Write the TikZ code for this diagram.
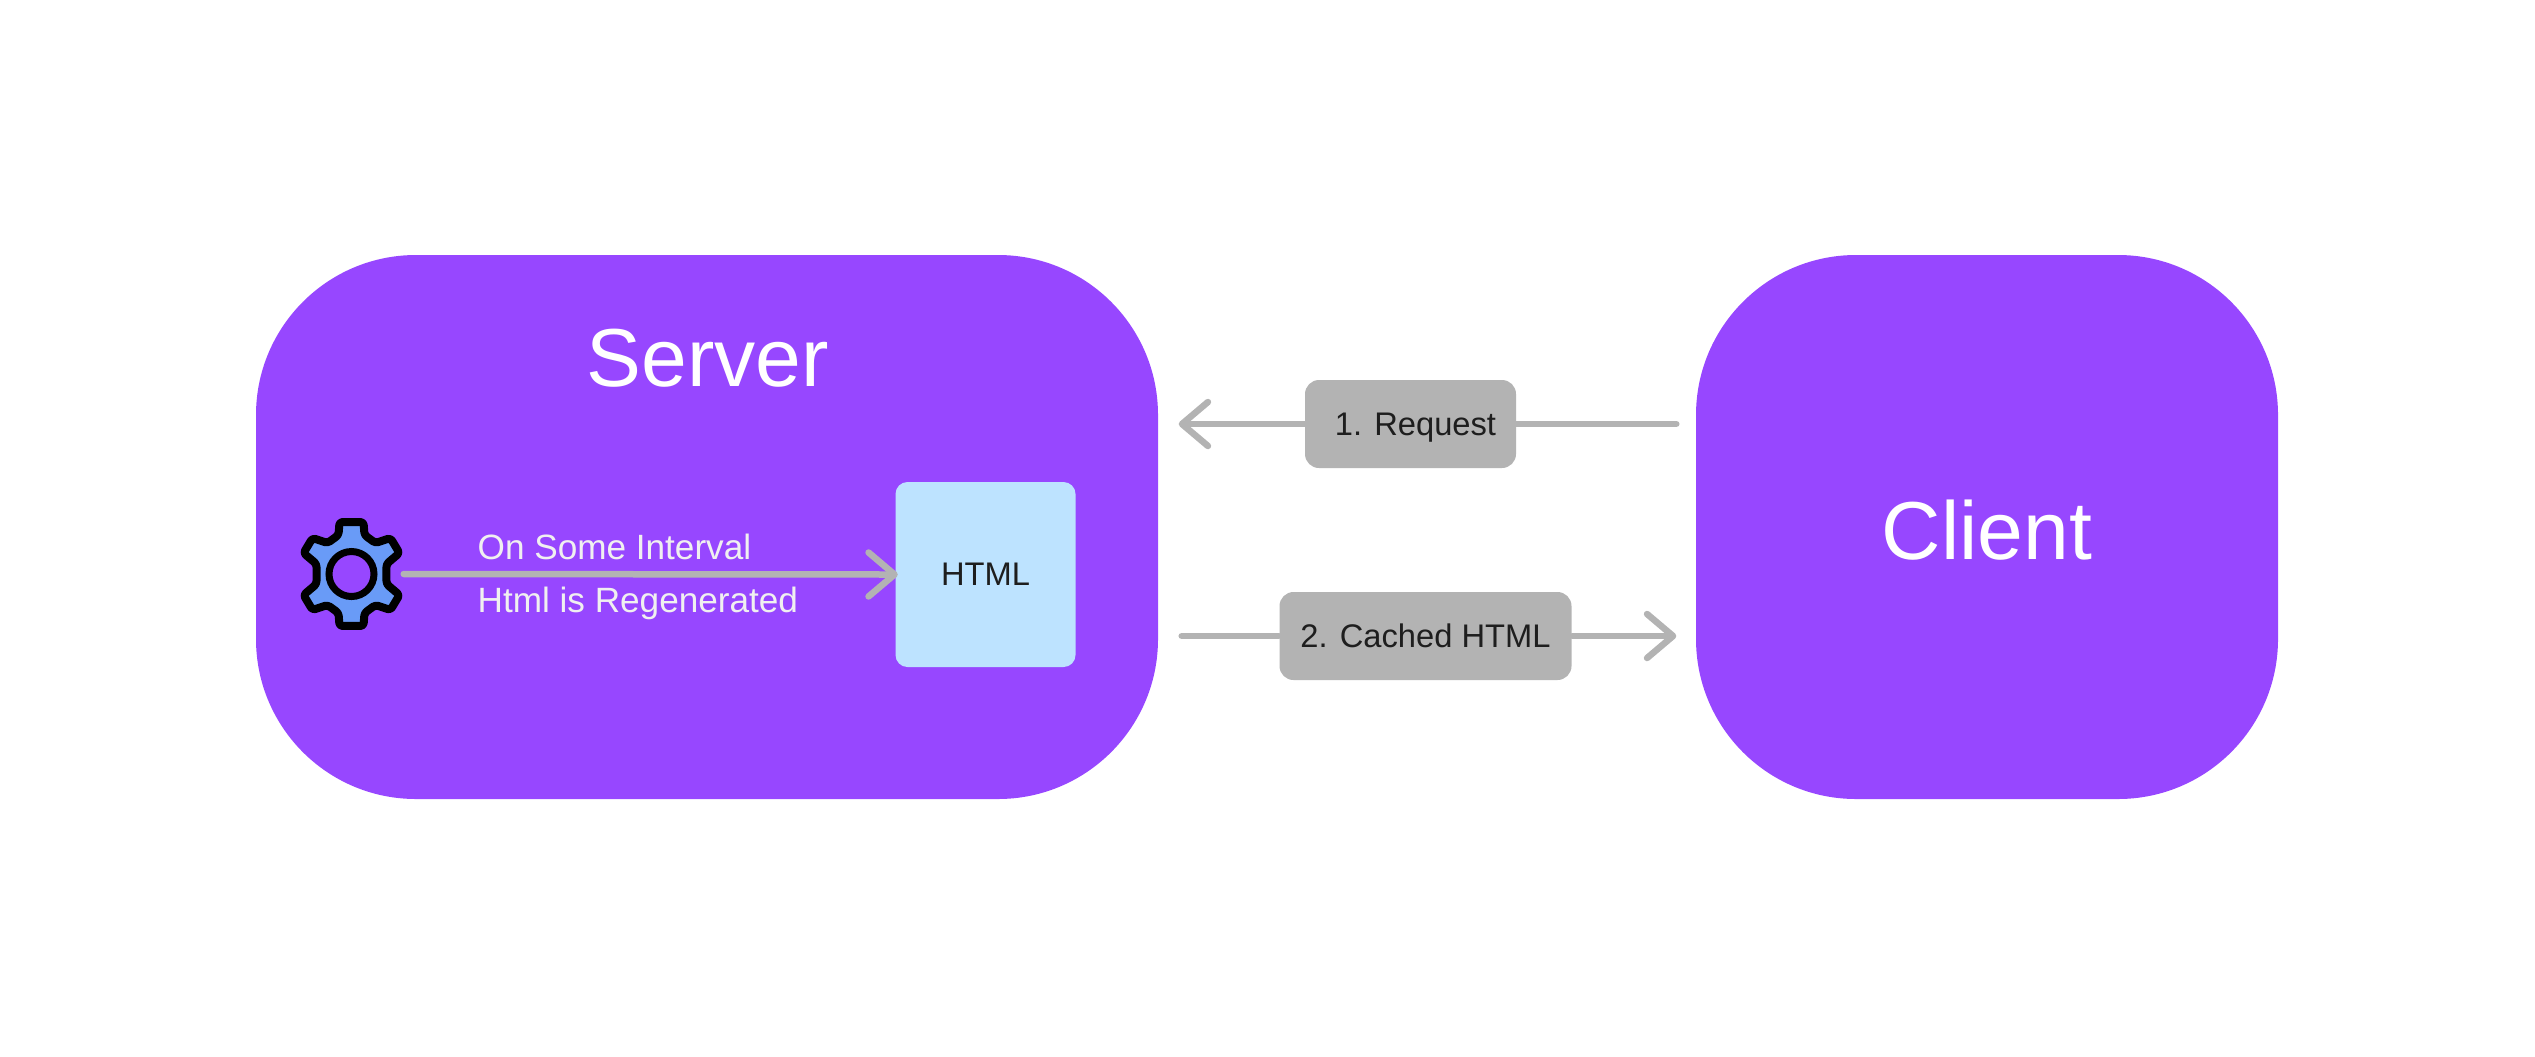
\documentclass[tikz,border=0pt]{standalone}
\usepackage{fontspec}
\setmainfont{Liberation Sans}
\usetikzlibrary{positioning}
\usetikzlibrary{arrows.meta}
\definecolor{boxpurple}{HTML}{9747FF}
\definecolor{boxgray}{HTML}{B3B3B3}
\definecolor{boxblue}{HTML}{BDE3FF}
\definecolor{gearblue}{HTML}{699BF7}
\definecolor{darktext}{HTML}{1E1E1E}
\tikzset{
    bigbox/.style = {rectangle, rounded corners=1.6cm, fill=boxpurple, text=white, text height=0.66cm, font=\fontsize{23.4}{27}\selectfont},
    htmlbox/.style = {rectangle, rounded corners=0.12cm, fill=boxblue, text=darktext, minimum width=1.8cm, minimum height=1.85cm, font=\fontsize{9.3}{11}\selectfont},
    labelbox/.style = {rectangle, rounded corners=0.14cm, fill=boxgray, text=darktext, minimum height=0.88cm, inner sep=0pt, text height=0.28cm, text depth=0.06cm, font=\fontsize{9.3}{11}\selectfont},
    note/.style = {right, inner sep=0pt, text=white!94!black, text height=0.3cm, text depth=0.08cm, font=\fontsize{10}{12}\selectfont},
    edgeg/.style = {line width=0.065cm, boxgray, line cap=round},
    edgea/.style = {edgeg, -{Straight Barb[length=0.26cm,width=0.44cm,round]}},
    gearline/.style = {line width=0.08cm, black, fill=gearblue, line join=round}
}
\begin{document}
\begin{tikzpicture}[scale=1.00]
\useasboundingbox (0,0) rectangle (25.35,-10.56);
%
\node[bigbox, minimum width=9.02cm, minimum height=5.44cm] at (7.07,-5.27) (server) {};
\node[bigbox, minimum width=5.82cm, minimum height=5.44cm] at (19.87,-5.27) (client) {Client};
\node[text=white, font=\fontsize{23.4}{27}\selectfont] at (7.08,-3.585) (title) {Server};
\node[htmlbox] at (9.855,-5.745) (html) {HTML};
\node[minimum width=1.03cm, minimum height=1.11cm, inner sep=0pt] at (3.515,-5.74) (gear) {};
\node[labelbox, minimum width=2.11cm] at (14.105,-4.24) (request) {\hspace*{0.1cm}1. Request};
\node[labelbox, minimum width=2.92cm] at (14.255,-6.36) (cached) {2. Cached HTML};
\node[note] at (4.77,-5.487) (interval) {On Some Interval};
\node[note] at (4.77,-6.017) (regen) {Html is Regenerated};
%
\begin{scope}[shift={(gear.center)}, x=0.01cm, y=0.01cm]
\draw[gearline, rounded corners=0.03cm] (12,52) -- (13,39) -- (24,31) -- (39,36) -- (48,21) -- (35,10)
    -- (35,-10) -- (48,-21) -- (39,-36) -- (24,-31) -- (13,-39) -- (12,-52)
    -- (-12,-52) -- (-13,-39) -- (-24,-31) -- (-39,-36) -- (-48,-21) -- (-35,-10)
    -- (-35,10) -- (-48,21) -- (-39,36) -- (-24,31) -- (-13,39) -- (-12,52) -- cycle;
\end{scope}
\node[circle, draw=black, line width=0.07cm, minimum size=0.45cm, inner sep=0pt, fill=boxpurple] at (gear.center) (hub) {};
%
\draw[edgea, shorten >=-0.03cm] (gear.east) -- (html.west);
\draw[edgeg] ([xshift=-0.19cm]client.west |- request) -- (request.east);
\draw[edgea] (request.west) -- ([xshift=0.2cm]server.east |- request);
\draw[edgeg] ([xshift=0.23cm]server.east |- cached) -- (cached.west);
\draw[edgea] (cached.east) -- ([xshift=-0.19cm]client.west |- cached);
\end{tikzpicture}
\end{document}
